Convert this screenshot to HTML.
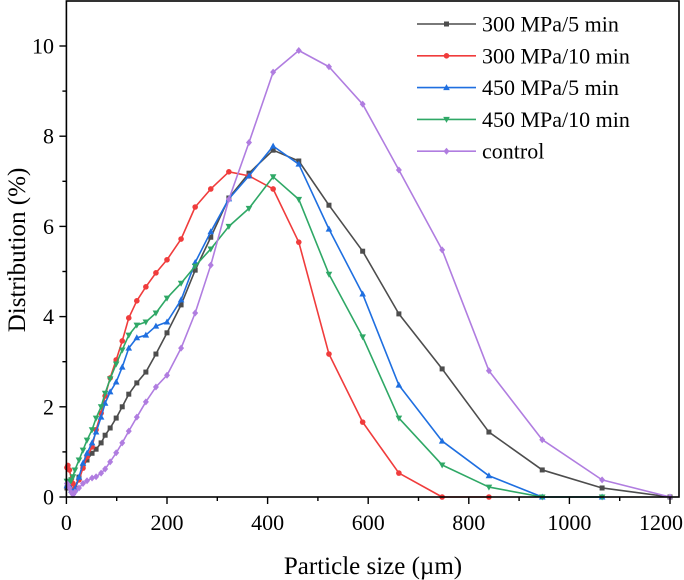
<!DOCTYPE html>
<html><head><meta charset="utf-8"><style>
html,body{margin:0;padding:0;background:#fff;}
svg{display:block;font-family:"Liberation Serif",serif;}
</style></head><body>
<svg id="chart" width="684" height="580" xmlns="http://www.w3.org/2000/svg"></svg>
<script>
const xValues=[1,3,6,10,13,17,25,33,41,51,59,69,77,87,99,111,124,140,158,178,200,228,256,287,323,363,411,462,522,589,661,747,840,946,1065,1200];
const gray300_5=[0.2,0.25,0.2,0.15,0.1,0.2,0.44,0.67,0.82,0.97,1.06,1.2,1.37,1.53,1.75,2.0,2.28,2.53,2.77,3.17,3.64,4.26,5.03,5.76,6.63,7.18,7.69,7.45,6.47,5.45,4.06,2.84,1.44,0.6,0.2,0];
const red300_10=[0.65,0.7,0.6,0.4,0.3,0.2,0.38,0.64,0.89,1.11,1.49,1.86,2.24,2.64,3.04,3.46,3.97,4.35,4.66,4.97,5.26,5.72,6.43,6.83,7.21,7.12,6.83,5.65,3.17,1.66,0.53,0,0,null,null,null];
const blue450_5=[0.25,0.3,0.25,0.15,0.1,0.18,0.44,0.75,0.97,1.2,1.44,1.77,2.08,2.33,2.55,2.88,3.3,3.53,3.59,3.79,3.88,4.37,5.2,5.88,6.61,7.12,7.78,7.38,5.94,4.5,2.48,1.24,0.47,0,0,null];
const green450_10=[0.35,0.35,0.3,0.38,0.45,0.6,0.82,1.04,1.26,1.49,1.75,2.0,2.3,2.62,2.95,3.26,3.59,3.81,3.88,4.08,4.41,4.74,5.12,5.5,6.0,6.4,7.1,6.6,4.94,3.55,1.75,0.71,0.22,0,0,null];
const purpleControl=[0.3,0.28,0.2,0.1,0.05,0.11,0.2,0.3,0.36,0.42,0.45,0.53,0.62,0.78,0.98,1.2,1.46,1.77,2.11,2.44,2.7,3.3,4.08,5.14,6.6,7.86,9.42,9.9,9.54,8.71,7.25,5.48,2.8,1.27,0.38,0];
const seriesNames=["300 MPa/5 min","300 MPa/10 min","450 MPa/5 min","450 MPa/10 min","control"];
const xTicks=[0,200,400,600,800,1000,1200];
const yTicks=[0,2,4,6,8,10];

const NS="http://www.w3.org/2000/svg";
const svg=document.getElementById('chart');
const L=66.4,R=679,T=1,B=497;
const sx=v=>L+v*0.503;
const sy=v=>B-v*45.1;
function mk(tag,attrs,parent){const e=document.createElementNS(NS,tag);for(const k in attrs)e.setAttribute(k,attrs[k]);(parent||svg).appendChild(e);return e;}

const colors=["#4d4d4d","#f03c3c","#1f6fe0","#2fa866","#b07de0"];
const shapes=["square","circle","up","down","diamond"];
const data=[gray300_5,red300_10,blue450_5,green450_10,purpleControl];

function marker(g,shape,x,y,c){
  let e;
  if(shape==="square")e=mk('rect',{x:x-2.5,y:y-2.5,width:5,height:5,fill:c},g);
  else if(shape==="circle")e=mk('circle',{cx:x,cy:y,r:2.8,fill:c},g);
  else if(shape==="up")e=mk('polygon',{points:`${x},${y-3.5} ${x-3.3},${y+2.5} ${x+3.3},${y+2.5}`,fill:c},g);
  else if(shape==="down")e=mk('polygon',{points:`${x},${y+3.5} ${x-3.3},${y-2.5} ${x+3.3},${y-2.5}`,fill:c},g);
  else e=mk('polygon',{points:`${x},${y-3.5} ${x+3},${y} ${x},${y+3.5} ${x-3},${y}`,fill:c},g);
  return e;
}

data.forEach((vals,i)=>{
  const g=mk('g',{});
  
  
  const pts=[];
  vals.forEach((v,j)=>{if(v!==null)pts.push([sx(xValues[j]),sy(v)]);});
  const line=mk('polyline',{points:pts.map(p=>p.join(',')).join(' '),fill:'none',stroke:colors[i],'stroke-width':1.6,'stroke-linejoin':'round'},g);
  
  
  pts.forEach(p=>{
    const m=marker(g,shapes[i],p[0],p[1],colors[i]);
    
    
  });
});

const frame=mk('rect',{x:L,y:T,width:R-L,height:B-T,fill:'none',stroke:'#000','stroke-width':1.6});



for(let v=0;v<=1200;v+=100){
  const major=v%200===0;
  const t=mk('line',{x1:sx(v),x2:sx(v),y1:B,y2:B+(major?7:4),stroke:'#000','stroke-width':1.4});
  
  
}
xTicks.forEach((v,i)=>{
  const last=i===xTicks.length-1;
  const t=mk('text',{x:last?683:sx(v),y:530,'font-size':22,'text-anchor':last?'end':'middle'});
  t.textContent=v;
  
  
});
for(let v=0;v<=10;v+=1){
  const major=v%2===0;
  const t=mk('line',{x1:L,x2:L-(major?7:4),y1:sy(v),y2:sy(v),stroke:'#000','stroke-width':1.4});
  
  
}
yTicks.forEach(v=>{
  const t=mk('text',{x:54,y:sy(v)+7.5,'font-size':22,'text-anchor':'end'});
  t.textContent=v;
  
  
});
const xl=mk('text',{x:373,y:574,'font-size':25,'text-anchor':'middle'});
xl.textContent='Particle size (µm)';


const yl=mk('text',{x:0,y:0,'font-size':25,'text-anchor':'middle',transform:'translate(25,250) rotate(-90)'});
yl.textContent='Distribution (%)';



const lg=mk('g',{});


seriesNames.forEach((n,i)=>{
  const y=24+i*31.8;
  const e=mk('g',{},lg);
  
  
  mk('line',{x1:417,x2:476,y1:y,y2:y,stroke:colors[i],'stroke-width':1.6},e);
  marker(e,shapes[i],446.5,y,colors[i]);
  const t=mk('text',{x:482,y:y+7.5,'font-size':22},e);
  t.textContent=n;
});
</script>
</body></html>
